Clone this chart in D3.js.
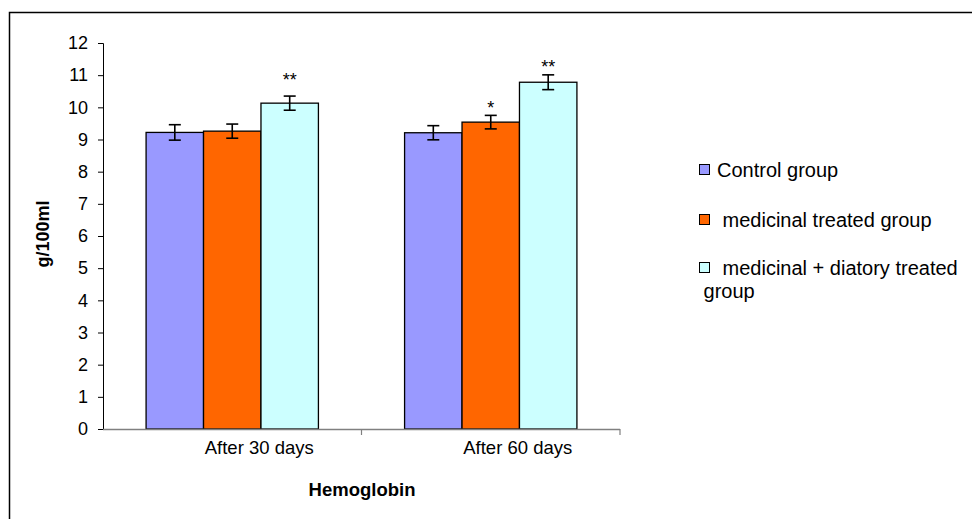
<!DOCTYPE html>
<html><head><meta charset="utf-8">
<script src="https://cdn.jsdelivr.net/npm/d3@7"></script>
<style>body{margin:0;background:#fff}svg{display:block;font-family:"Liberation Sans",Arial,sans-serif}</style>
</head><body><svg id="c" width="972" height="519"></svg>
<script>
const categories = ["After 30 days", "After 60 days"];
const seriesNames = ["Control group", " medicinal treated group", " medicinal + diatory treated group"];
const seriesColors = ["#9999FF", "#FF6600", "#CCFFFF"];
const control = [9.22, 9.21];
const medicinal = [9.26, 9.54];
const combined = [10.13, 10.78];
const errControl = [0.24, 0.22];
const errMedicinal = [0.22, 0.21];
const errCombined = [0.22, 0.23];
const marks = [["", "", "**"], ["", "*", "**"]];
const markY = [[0, 0, 11.0], [0, 10.14, 11.42]];
const yTicks = [0,1,2,3,4,5,6,7,8,9,10,11,12];

const values = [control, medicinal, combined];
const errs = [errControl, errMedicinal, errCombined];

const svg = d3.select("#c");
svg.append("rect").attr("x",9.5).attr("y",12.5).attr("width",1000).attr("height",600)
  .attr("fill","none").attr("stroke","#000").attr("stroke-width",1.5);

const L=103, R=620, T=43, B=429;
const x0 = d3.scaleBand().domain(categories).range([L,R]).paddingInner(0).paddingOuter(0);
const barW = x0.bandwidth()/4.5;
const y = d3.scaleLinear().domain([0,12]).range([B,T]);

// y axis
const ya = svg.append("g").attr("transform",`translate(${L},0)`)
  .call(d3.axisLeft(y).tickValues(yTicks).tickSize(5).tickPadding(10));
ya.select(".domain").attr("stroke","#000");
ya.selectAll("text").attr("font-size",18).attr("fill","#000").attr("font-family","Liberation Sans, Arial");
ya.selectAll(".tick line").attr("stroke","#000");

// bars
categories.forEach((c,ci)=>{
  const start = x0(c) + (x0.bandwidth()-3*barW)/2;
  values.forEach((s,si)=>{
    const v=s[ci], e=errs[si][ci];
    const bx = start + si*barW;
    svg.append("rect").attr("x",bx).attr("y",y(v)).attr("width",barW).attr("height",y(0)-y(v))
      .attr("fill",seriesColors[si]).attr("stroke","#000").attr("stroke-width",1.3);
    const cx = bx+barW/2;
    const g = svg.append("g").attr("stroke","#000").attr("stroke-width",1.6);
    g.append("line").attr("x1",cx).attr("x2",cx).attr("y1",y(v+e)).attr("y2",y(v-e));
    g.append("line").attr("x1",cx-6).attr("x2",cx+6).attr("y1",y(v+e)).attr("y2",y(v+e));
    g.append("line").attr("x1",cx-6).attr("x2",cx+6).attr("y1",y(v-e)).attr("y2",y(v-e));
    if (marks[ci][si]) {
      svg.append("text").attr("x",cx).attr("y",y(markY[ci][si])+11).attr("text-anchor","middle")
        .attr("font-size",18).attr("fill","#000").text(marks[ci][si]);
    }
  });
});

// x axis
const xa = svg.append("g").attr("transform",`translate(0,${B})`);
xa.append("line").attr("x1",L).attr("x2",R).attr("y1",0.5).attr("y2",0.5).attr("stroke","#808080").attr("stroke-width",1.5);
const xt = [L, (L+R)/2, R];
xt.slice(1).forEach(t=>xa.append("line").attr("x1",t).attr("x2",t).attr("y1",0).attr("y2",6).attr("stroke","#808080").attr("stroke-width",1.2));
categories.forEach(c=>{
  xa.append("text").attr("x",x0(c)+x0.bandwidth()/2+27).attr("y",25).attr("text-anchor","middle")
    .attr("font-size",18.5).attr("fill","#000").text(c);
});

// axis titles
svg.append("text").attr("x",362).attr("y",496).attr("text-anchor","middle").attr("font-weight","bold")
  .attr("font-size",18.5).text("Hemoglobin");
svg.append("text").attr("transform","translate(49,234) rotate(-90)").attr("text-anchor","middle")
  .attr("font-weight","bold").attr("font-size",18).text("g/100ml");

// legend
const leg = [{y:170, lines:["Control group"], tx:717},
             {y:220, lines:[" medicinal treated group"], tx:717},
             {y:268, lines:[" medicinal + diatory treated", " group"], tx:717}];
leg.forEach((l,i)=>{
  svg.append("rect").attr("x",699.5).attr("y",l.y-5.5).attr("width",10).attr("height",10)
    .attr("fill",seriesColors[i]).attr("stroke","#000").attr("stroke-width",1);
  const t = svg.append("text").attr("font-size",20).attr("fill","#000").attr("xml:space","preserve").style("white-space","pre");
  l.lines.forEach((ln,k)=>{
    t.append("tspan").attr("x", k===0 ? l.tx : 698).attr("y", l.y+7 + k*23).text(ln);
  });
});
</script></body></html>
